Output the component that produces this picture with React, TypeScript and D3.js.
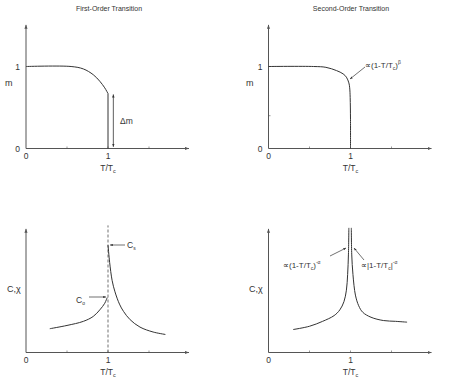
import React from "react";
import * as d3 from "d3";

const W = 456;
const H = 383;

// Panel 1: first-order order parameter
const p1T = [0, 0.55, 0.7, 0.82, 0.9, 0.96, 1.0];
const p1M = [1, 1.0, 0.97, 0.9, 0.82, 0.74, 0.67];
// Panel 2: second-order order parameter
const p2T = [0, 0.55, 0.7, 0.83, 0.91, 0.95, 0.98, 0.99, 0.996, 1.0, 1.0];
const p2M = [1, 1.0, 0.99, 0.95, 0.91, 0.87, 0.8, 0.74, 0.62, 0.35, 0];
// Panel 3: first-order response
const p3LeftT = [0.29, 0.5, 0.7, 0.82, 0.9, 0.96, 0.99];
const p3LeftC = [0.29, 0.33, 0.38, 0.44, 0.52, 0.6, 0.67];
const p3RightT = [1.0, 1.02, 1.05, 1.085, 1.14, 1.19, 1.27, 1.39, 1.55, 1.7];
const p3RightC = [1.31, 1.1, 0.88, 0.74, 0.59, 0.5, 0.4, 0.31, 0.25, 0.22];
// Panel 4: second-order response
const p4LeftT = [0.3, 0.5, 0.66, 0.8, 0.87, 0.92, 0.95, 0.965, 0.975, 0.98];
const p4LeftC = [0.28, 0.32, 0.38, 0.45, 0.52, 0.62, 0.76, 0.95, 1.2, 1.52];
const p4RightT = [1.01, 1.015, 1.03, 1.06, 1.1, 1.15, 1.25, 1.4, 1.55, 1.69];
const p4RightC = [1.52, 1.2, 0.95, 0.7, 0.57, 0.49, 0.43, 0.39, 0.38, 0.37];

const xTicks = [0, 1];
const yTicksM = [0, 1];
const titles = ["First-Order Transition", "Second-Order Transition"];

const FONT = "'Liberation Sans', Arial, sans-serif";
const LINE = "#333";
const AXIS = "#555";
const TXT = "#333";

const UNIT = 82;
const makeScales = (x0: number, y0: number) => {
  const x = d3.scaleLinear().domain([0, 2]).range([x0, x0 + 2 * UNIT]);
  const y = d3.scaleLinear().domain([0, 1.52]).range([y0, y0 - 1.52 * UNIT]);
  return { x, y };
};

const lineGen = (x: any, y: any) =>
  d3
    .line<[number, number]>()
    .x((d) => x(d[0]))
    .y((d) => y(d[1]))
    .curve(d3.curveCatmullRom.alpha(0.5));

const zip = (a: number[], b: number[]) => a.map((v, i) => [v, b[i]] as [number, number]);

const TT = ({ x, y }: { x: number; y: number }) => (
  <text x={x} y={y} fontSize={8.5} textAnchor="middle" fill={TXT} fontFamily={FONT}>
    T/T<tspan fontSize={5.5} dy={2}>c</tspan>
  </text>
);

const Axes = ({ x, y, showYTicks, yLabel }: any) => {
  const x0 = x(0);
  const y0 = y(0);
  return (
    <g>
      <line x1={x0} y1={y0} x2={x(2) - 1} y2={y0} stroke={AXIS} strokeWidth={1} markerEnd="url(#axArrow)" />
      <line x1={x0} y1={y0} x2={x0} y2={y(1.52) + 1} stroke={AXIS} strokeWidth={1} markerEnd="url(#axArrow)" />
      {[0.5, 1, 1.5].map((t) => (
        <line key={t} x1={x(t)} x2={x(t)} y1={y0} y2={y0 - 2} stroke={AXIS} strokeWidth={0.6} />
      ))}
      {xTicks.map((t) => (
        <text key={t} x={x(t)} y={y0 + 10} fontSize={8.5} textAnchor="middle" fill={TXT} fontFamily={FONT}>
          {t}
        </text>
      ))}
      {showYTicks &&
        yTicksM.map((t) => (
          <text key={t} x={x0 - 6} y={y(t) + 3} fontSize={8.5} textAnchor="end" fill={TXT} fontFamily={FONT}>
            {t}
          </text>
        ))}
      <TT x={x(1)} y={y0 + 22} />
      {yLabel}
    </g>
  );
};

export default function App() {
  const s1 = makeScales(26, 148.5);
  const s2 = makeScales(268.5, 148.5);
  const s3 = makeScales(26, 352.5);
  const s4 = makeScales(268.5, 352.5);

  const l1 = lineGen(s1.x, s1.y);
  const l2 = lineGen(s2.x, s2.y);
  const l3 = lineGen(s3.x, s3.y);
  const l4 = lineGen(s4.x, s4.y);

  const mLabel = (sx: number) => (
    <text x={sx} y={86} fontSize={9} fill={TXT} fontFamily={FONT}>m</text>
  );
  const cLabel = (sx: number) => (
    <text x={sx} y={292} fontSize={9} fill={TXT} fontFamily={FONT}>C,χ</text>
  );

  return (
    <svg width={W} height={H} style={{ position: "absolute", left: 0, top: 0, background: "#fff" }}>
      <defs>
        <marker id="axArrow" viewBox="0 0 10 10" refX="10" refY="5" markerWidth="4" markerHeight="4" orient="auto">
          <path d="M0,1 L10,5 L0,9 z" fill={AXIS} />
        </marker>
        <marker id="annArrow" viewBox="0 0 10 10" refX="10" refY="5" markerWidth="4" markerHeight="4" orient="auto-start-reverse">
          <path d="M0,1 L10,5 L0,9 z" fill={LINE} />
        </marker>
      </defs>

      {/* titles */}
      <text x={109} y={11} fontSize={7} textAnchor="middle" fill={TXT} fontFamily={FONT}>{titles[0]}</text>
      <text x={351} y={11} fontSize={7} textAnchor="middle" fill={TXT} fontFamily={FONT}>{titles[1]}</text>

      {/* Panel 1 */}
      <Axes x={s1.x} y={s1.y} showYTicks yLabel={mLabel(5)} />
      <path d={l1(zip(p1T, p1M)) || ""} fill="none" stroke={LINE} strokeWidth={1} />
      <line x1={s1.x(1)} x2={s1.x(1)} y1={s1.y(p1M[p1M.length - 1])} y2={s1.y(0)} stroke={LINE} strokeWidth={1} />
      <line x1={s1.x(1.065)} x2={s1.x(1.065)} y1={s1.y(0.66)} y2={s1.y(0.02)} stroke={LINE} strokeWidth={0.8}
        markerStart="url(#annArrow)" markerEnd="url(#annArrow)" />
      <text x={120} y={124} fontSize={8.5} fill={TXT} fontFamily={FONT}>Δm</text>

      {/* Panel 2 */}
      <Axes x={s2.x} y={s2.y} showYTicks yLabel={mLabel(246)} />
      <line x1={s2.x(0)} x2={s2.x(0) + 2} y1={s2.y(0.4)} y2={s2.y(0.4)} stroke={AXIS} strokeWidth={0.6} />
      <path d={l2(zip(p2T, p2M)) || ""} fill="none" stroke={LINE} strokeWidth={1} />
      <line x1={365} y1={67} x2={350} y2={79} stroke={LINE} strokeWidth={0.7} markerEnd="url(#annArrow)" />
      <text x={365} y={68} fontSize={8} fill={TXT} fontFamily={FONT}>
        ∝(1-T/T<tspan fontSize={5} dy={2}>c</tspan><tspan dy={-2}>)</tspan><tspan fontSize={5} dy={-4}>β</tspan>
      </text>

      {/* Panel 3 */}
      <Axes x={s3.x} y={s3.y} yLabel={cLabel(7)} />
      <line x1={s3.x(1)} x2={s3.x(1)} y1={s3.y(0)} y2={s3.y(1.55)} stroke={LINE} strokeWidth={0.7} strokeDasharray="3,2" />
      <path d={l3(zip(p3LeftT, p3LeftC)) || ""} fill="none" stroke={LINE} strokeWidth={1} />
      <path d={l3(zip(p3RightT, p3RightC)) || ""} fill="none" stroke={LINE} strokeWidth={1} />
      <line x1={125} y1={245} x2={110} y2={245} stroke={LINE} strokeWidth={0.7} markerEnd="url(#annArrow)" />
      <text x={127} y={248} fontSize={8.5} fill={TXT} fontFamily={FONT}>
        C<tspan fontSize={5} dy={2}>s</tspan>
      </text>
      <line x1={89} y1={297} x2={106} y2={297} stroke={LINE} strokeWidth={0.7} markerEnd="url(#annArrow)" />
      <text x={76} y={303} fontSize={8.5} fill={TXT} fontFamily={FONT}>
        C<tspan fontSize={5} dy={2}>o</tspan>
      </text>

      {/* Panel 4 */}
      <Axes x={s4.x} y={s4.y} yLabel={cLabel(249)} />
      <path d={l4(zip(p4LeftT, p4LeftC)) || ""} fill="none" stroke={LINE} strokeWidth={1} />
      <path d={l4(zip(p4RightT, p4RightC)) || ""} fill="none" stroke={LINE} strokeWidth={1} />
      <line x1={330} y1={256} x2={346} y2={248} stroke={LINE} strokeWidth={0.7} markerEnd="url(#annArrow)" />
      <text x={283} y={268} fontSize={8} fill={TXT} fontFamily={FONT}>
        ∝(1-T/T<tspan fontSize={5} dy={2}>c</tspan><tspan dy={-2}>)</tspan><tspan fontSize={5} dy={-4}>-α</tspan>
      </text>
      <line x1={364} y1={260} x2={354} y2={248} stroke={LINE} strokeWidth={0.7} markerEnd="url(#annArrow)" />
      <text x={361} y={268} fontSize={8} fill={TXT} fontFamily={FONT}>
        ∝|1-T/T<tspan fontSize={5} dy={2}>c</tspan><tspan dy={-2}>|</tspan><tspan fontSize={5} dy={-4}>-α</tspan>
      </text>
    </svg>
  );
}
